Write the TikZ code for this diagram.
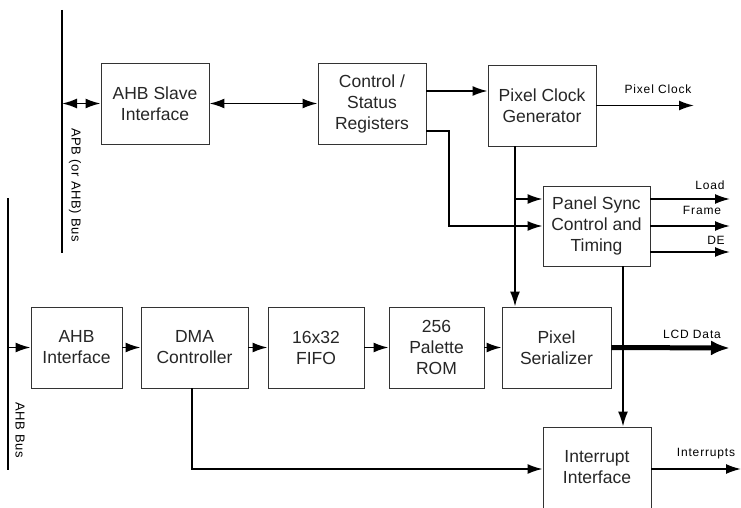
\documentclass[tikz,border=0pt]{standalone}
\usepackage{fontspec}
\setmainfont{Liberation Sans}
\usetikzlibrary{arrows.meta}
\begin{document}
\begin{tikzpicture}[x=1pt,y=-1pt,
 blk/.style={draw=black!80, line width=0.9pt, align=center, text=black!85, font=\fontsize{17.5}{21}\selectfont, inner sep=0pt},
 wire/.style={line width=1.8pt},
 arr/.style={wire, -{Latex[length=15pt,width=10pt]}},
 darr/.style={wire, {Latex[length=15pt,width=10pt]}-{Latex[length=15pt,width=10pt]}},
 thick arr/.style={line width=5pt, -{Latex[length=19pt,width=15pt]}},
 lbl/.style={font=\fontsize{12}{14}\selectfont\addfontfeature{LetterSpace=7}, inner sep=0pt},
 buslbl/.style={font=\fontsize{13}{15}\selectfont\addfontfeature{LetterSpace=5}, rotate=-90, inner sep=0pt},
 bus/.style={line width=2.2pt}]
\useasboundingbox (0,0) rectangle (741,508);
\clip (0,0) rectangle (741,508);

% buses
\coordinate (apbT) at (62,10);
\coordinate (apbB) at (62,253);
\draw[bus] (apbT) -- (apbB);
\node[buslbl] (apblbl) at (75,185) {APB (or AHB) Bus};
\coordinate (ahbT) at (8,198);
\coordinate (ahbB) at (8,470);
\draw[bus] (ahbT) -- (ahbB);
\node[buslbl] (ahblbl) at (20,430) {AHB Bus};

% blocks
\node[blk, minimum width=108pt, minimum height=81pt] (slave) at (155,103.5) {AHB Slave\\Interface};
\node[blk, minimum width=108pt, minimum height=81pt] (ctrl) at (372,103.5) {Control /\\Status\\Registers};
\node[blk, minimum width=108pt, minimum height=81pt] (pclk) at (542,105.5) {Pixel Clock\\Generator};
\node[blk, minimum width=107pt, minimum height=80pt] (psync) at (596.5,226) {Panel Sync\\Control and\\Timing};
\node[blk, minimum width=91pt, minimum height=81pt] (ahbif) at (76.5,347.5) {AHB\\Interface};
\node[blk, minimum width=107pt, minimum height=81pt] (dma) at (194.5,347.5) {DMA\\Controller};
\node[blk, minimum width=96pt, minimum height=81pt] (fifo) at (316,347.5) {16x32\\FIFO};
\node[blk, minimum width=95pt, minimum height=81pt] (pal) at (436.5,347.5) {256\\Palette\\ROM};
\node[blk, minimum width=109pt, minimum height=81pt] (pser) at (556.5,347.5) {Pixel\\Serializer};
\node[blk, minimum width=108pt, minimum height=113pt] (intr) at (597,483.5) {};
\node[blk, draw=none] (intrtxt) at (597,467) {Interrupt\\Interface};

% top connections
\draw[darr] (slave.west -| apbT) -- (slave.west);
\draw[darr] (slave.east) -- (ctrl.west);
\draw[arr] ([yshift=12.5pt]ctrl.east) -- ([yshift=12.5pt]ctrl.east -| pclk.west);
\coordinate (j1) at (449,131);
\draw[arr] ([yshift=-27.5pt]ctrl.east) -- (j1) |- (psync.west);
\coordinate (pco) at (694,105.5);
\draw[arr] (pclk.east) -- (pco);
\node[lbl] (pcl) at (658,89) {Pixel Clock};

% pixel clock distribution
\coordinate (pd) at (515,146);
\draw[arr] (pclk.south -| pd) -- (pser.north -| pd);
\coordinate (br) at (515,199);
\draw[arr] (br) -- (br -| psync.west);

% panel sync outputs
\coordinate (oLoad) at (730,199);
\coordinate (oFrame) at (730,226);
\coordinate (oDE) at (730,252);
\draw[arr] (oLoad -| psync.east) -- (oLoad);
\draw[arr] (oFrame -| psync.east) -- (oFrame);
\draw[arr] (oDE -| psync.east) -- (oDE);
\node[lbl] (lload) at (710,185) {Load};
\node[lbl] (lframe) at (702,210) {Frame};
\node[lbl] (lde) at (716,240) {DE};

\coordinate (pv) at (623,266);
\draw[arr] (psync.south -| pv) -- (intr.north -| pv);

% data path
\draw[arr] (ahbif.west -| ahbT) -- (ahbif.west);
\draw[arr] (ahbif.east) -- (dma.west);
\draw[arr] (dma.east) -- (fifo.west);
\draw[arr] (fifo.east) -- (pal.west);
\draw[arr] (pal.east) -- (pser.west);
\coordinate (lcd) at (730,348);
\draw[thick arr] (pser.east) -- (lcd);
\node[lbl] (llcd) at (692,334) {LCD Data};

% interrupts
\coordinate (dv) at (192,469);
\draw[arr] (dma.south -| dv) -- (dv) -- (dv -| intr.west);
\coordinate (io) at (741,469);
\draw[arr] (intr.east |- io) -- (io);
\node[lbl] (lint) at (706,454) {Interrupts};
\end{tikzpicture}
\end{document}
